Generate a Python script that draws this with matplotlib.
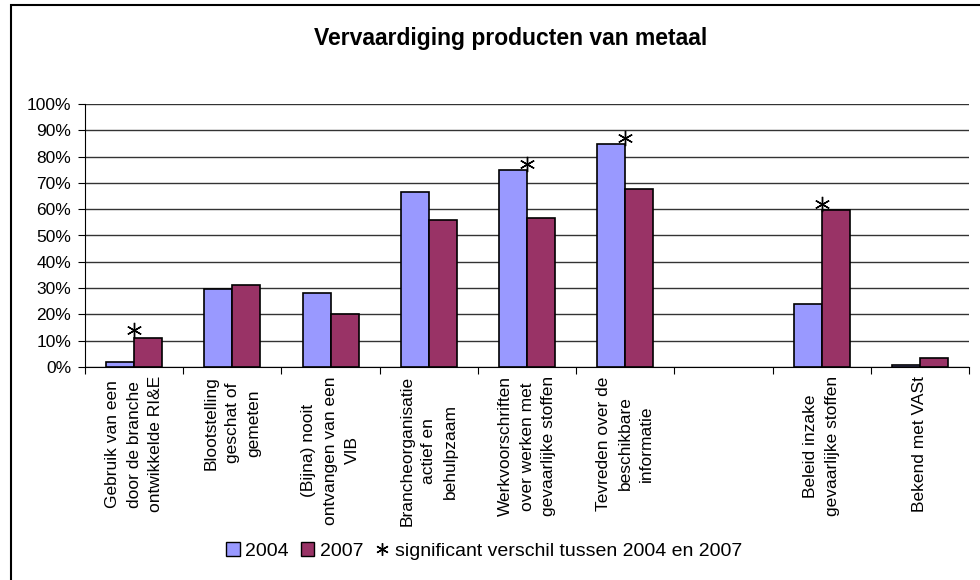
import matplotlib.pyplot as plt
import matplotlib.patches as mpatches
from matplotlib.lines import Line2D
import numpy as np

plt.rcParams['font.family'] = ['Liberation Sans', 'DejaVu Sans']

categories = [
    'Gebruik van een\ndoor de branche\nontwikkelde RI&E',
    'Blootstelling\ngeschat of\ngemeten',
    '(Bijna) nooit\nontvangen van een\nVIB',
    'Brancheorganisatie\nactief en\nbehulpzaam',
    'Werkvoorschriften\nover werken met\ngevaarlijke stoffen',
    'Tevreden over de\nbeschikbare\ninformatie',
    '',
    'Beleid inzake\ngevaarlijke stoffen',
    'Bekend met VASt',
]
v2004 = [2.0, 29.5, 28.2, 66.4, 74.9, 84.8, np.nan, 24.0, 0.9]
v2007 = [11.1, 31.1, 20.0, 55.8, 56.5, 67.7, np.nan, 59.6, 3.3]
# significant difference markers (group index, height)
sig_idx = [0, 4, 5, 7]
sig_val = [14, 77, 87, 62]

fig = plt.figure(figsize=(9.8, 5.8), dpi=100)
ax = fig.add_axes([85 / 980, 1 - 367 / 580, (969 - 85) / 980, (367 - 104) / 580])

x = np.arange(len(categories))
w = 0.285
ax.bar(x - w / 2, v2004, w, color='#9999FF', edgecolor='black', linewidth=1.2, zorder=3)
ax.bar(x + w / 2, v2007, w, color='#993366', edgecolor='black', linewidth=1.2, zorder=3)
ax.plot(sig_idx, sig_val, linestyle='none', marker=(6, 2, 0), markersize=11,
        color='black', markeredgewidth=1.0, zorder=4)

ax.set_xlim(-0.5, len(categories) - 0.5)
ax.set_ylim(0, 100)
ax.set_yticks(range(0, 101, 10))
ax.set_yticklabels([f'{v}%' for v in range(0, 101, 10)], fontsize=12.5)
ax.yaxis.grid(True, color='#333333', linewidth=1, zorder=0)
ax.set_xticks(np.arange(len(categories) + 1) - 0.5)
ax.set_xticklabels([])
ax.tick_params(axis='both', direction='out', length=5, color='black')
ax.tick_params(axis='y', pad=5)
for s in ['top', 'right']:
    ax.spines[s].set_visible(False)
ax.spines['left'].set_color('black')
ax.spines['bottom'].set_color('black')

for i, lab in enumerate(categories):
    ax.text(i, -3.5, lab, rotation=90, ha='center', va='top', multialignment='center',
            fontsize=12.5, linespacing=1.55, transform=ax.transData, clip_on=False)

fig.text(511 / 980, 1 - 38 / 580, 'Vervaardiging producten van metaal',
         ha='center', va='center', fontsize=16.5, fontweight='bold')

handles = [
    mpatches.Patch(facecolor='#9999FF', edgecolor='black', label='2004'),
    mpatches.Patch(facecolor='#993366', edgecolor='black', label='2007'),
    Line2D([], [], linestyle='none', marker=(6, 2, 0), color='black', markersize=9,
           markeredgewidth=1.0, label='significant verschil tussen 2004 en 2007'),
]
fig.legend(handles=handles, loc='center', bbox_to_anchor=(484 / 980, 1 - 551 / 580), ncol=3,
           frameon=False, fontsize=14, handlelength=0.7, handleheight=0.7,
           handletextpad=0.3, columnspacing=0.6)

fig.add_artist(mpatches.Rectangle((11 / 980, -0.01), 1, 1 - 5 / 580 + 0.01, fill=False,
                                  edgecolor='black', linewidth=1.5, transform=fig.transFigure))

fig.savefig('out.png', dpi=100)
